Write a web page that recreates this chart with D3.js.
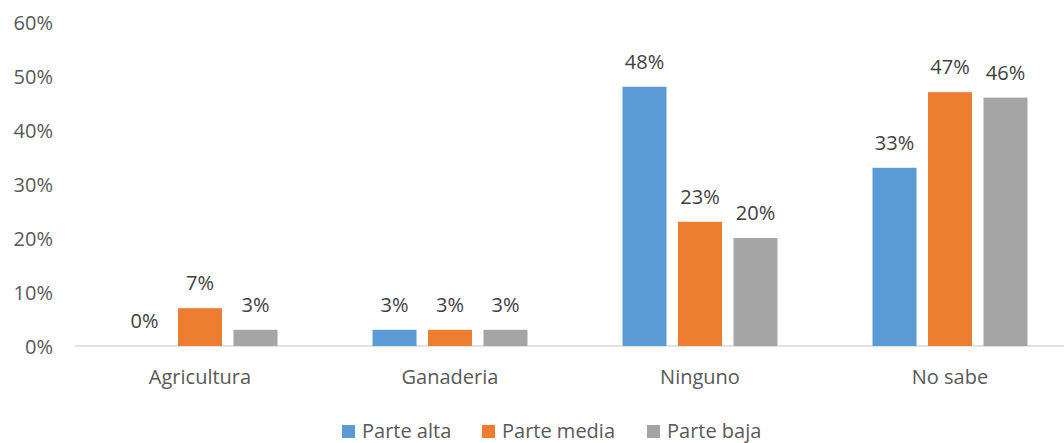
<!DOCTYPE html>
<meta charset="utf-8">
<style>
body{ margin:0; background:#fff; }
text{ font-family:"Open Sans","Noto Sans",sans-serif; font-size:20px; }
.tick text{ fill:#595959; font-size:20px; }
.vlabel{ fill:#404040; text-anchor:middle; }
.leg text{ fill:#595959; }
</style>
<body>
<script src="https://cdn.jsdelivr.net/npm/d3@7"></script>
<script>
var categories = ["Agricultura", "Ganaderia", "Ninguno", "No sabe"];
var seriesNames = ["Parte alta", "Parte media", "Parte baja"];
var parteAlta  = [0, 3, 48, 33];
var parteMedia = [7, 3, 23, 47];
var parteBaja  = [3, 3, 20, 46];
var yTicks = [0, 10, 20, 30, 40, 50, 60];
var colors = ["#5B9BD5", "#ED7D31", "#A5A5A5"];

var W = 1064, H = 443;
var series = [parteAlta, parteMedia, parteBaja];

var svg = d3.select("body").append("svg").attr("width", W).attr("height", H);

var x = d3.scaleBand().domain(categories).range([75, 1075]);
var y = d3.scaleLinear().domain([0, 60]).range([346, 22]);
var xs = d3.scaleBand().domain(seriesNames).range([47.5, 202.5]).paddingInner(0.207).paddingOuter(0);

// y axis labels, no line
var yAxis = svg.append("g").attr("transform", "translate(53,0)")
  .call(d3.axisLeft(y).tickValues(yTicks).tickSize(0).tickPadding(0).tickFormat(function(d){ return d + "%"; }));
yAxis.select(".domain").remove();
yAxis.selectAll("text").attr("dy", "0.35em");

// baseline
svg.append("line").attr("x1", 75).attr("x2", W).attr("y1", y(0)).attr("y2", y(0))
  .attr("stroke", "#D9D9D9").attr("stroke-width", 1.3);

var groups = svg.selectAll("g.cat").data(categories).enter().append("g")
  .attr("class", "cat").attr("transform", function(d){ return "translate(" + x(d) + ",0)"; });

groups.each(function(c, i){
  var g = d3.select(this);
  var rows = series.map(function(s, j){ return {name: seriesNames[j], v: s[i], j: j}; });
  g.selectAll("rect").data(rows).enter().append("rect")
    .attr("x", function(d){ return xs(d.name); })
    .attr("width", xs.bandwidth())
    .attr("y", function(d){ return y(d.v); })
    .attr("height", function(d){ return y(0) - y(d.v); })
    .attr("fill", function(d){ return colors[d.j]; });
  g.selectAll("text.vlabel").data(rows).enter().append("text")
    .attr("class", "vlabel")
    .attr("x", function(d){ return xs(d.name) + xs.bandwidth()/2; })
    .attr("y", function(d){ return y(d.v) - 18; })
    .text(function(d){ return d.v + "%"; });
});

// category labels
svg.selectAll("text.cat").data(categories).enter().append("text")
  .attr("x", function(d){ return x(d) + x.bandwidth()/2; })
  .attr("y", 384).attr("text-anchor", "middle")
  .attr("fill", "#595959")
  .text(function(d){ return d; });

// legend
var legX = [342, 482, 647];
var leg = svg.append("g").attr("class", "leg");
seriesNames.forEach(function(n, i){
  leg.append("rect").attr("x", legX[i]).attr("y", 425).attr("width", 13).attr("height", 13).attr("fill", colors[i]);
  leg.append("text").attr("x", legX[i] + 20).attr("y", 438).text(n);
});
</script>
</body>
